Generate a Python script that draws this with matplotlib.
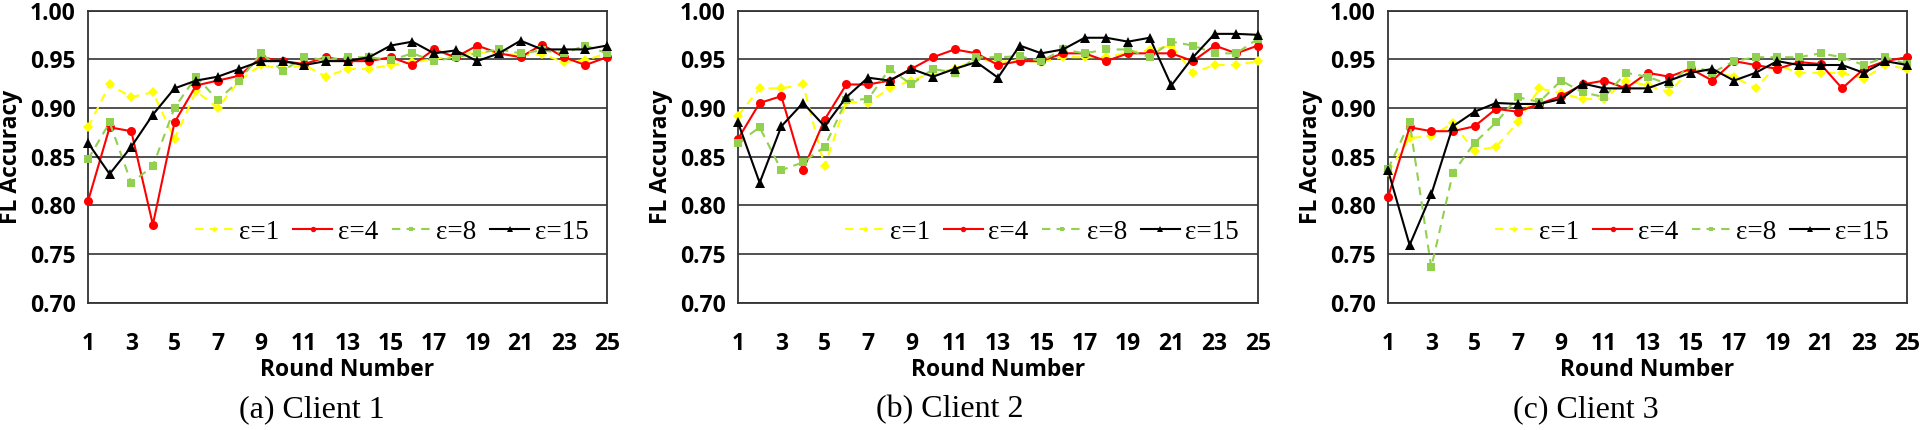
import matplotlib
matplotlib.use("Agg")
import matplotlib.pyplot as plt
from matplotlib.ticker import FixedLocator

rounds = list(range(1, 26))
xtick_labels = [str(r) for r in range(1, 26, 2)]
ytick_values = [0.70, 0.75, 0.80, 0.85, 0.90, 0.95, 1.00]
series_labels = ["ε=1", "ε=4", "ε=8", "ε=15"]
subcaptions = ["(a) Client 1", "(b) Client 2", "(c) Client 3"]

# Client 1
c1_eps1 = [0.880, 0.924, 0.911, 0.916, 0.868, 0.917, 0.900, 0.928, 0.944, 0.940, 0.944, 0.932, 0.940,
           0.940, 0.944, 0.947, 0.950, 0.954, 0.957, 0.956, 0.954, 0.955, 0.947, 0.949, 0.956]
c1_eps4 = [0.804, 0.880, 0.876, 0.780, 0.885, 0.923, 0.928, 0.933, 0.952, 0.948, 0.945, 0.952, 0.948,
           0.948, 0.952, 0.944, 0.960, 0.952, 0.964, 0.956, 0.952, 0.965, 0.952, 0.944, 0.952]
c1_eps8 = [0.847, 0.885, 0.823, 0.840, 0.900, 0.932, 0.908, 0.928, 0.956, 0.938, 0.952, 0.949, 0.952,
           0.952, 0.949, 0.956, 0.948, 0.952, 0.956, 0.960, 0.956, 0.959, 0.956, 0.964, 0.956]
c1_eps15 = [0.864, 0.832, 0.860, 0.893, 0.920, 0.928, 0.932, 0.940, 0.948, 0.948, 0.944, 0.948, 0.948,
            0.952, 0.964, 0.968, 0.956, 0.959, 0.948, 0.956, 0.969, 0.960, 0.960, 0.960, 0.964]

# Client 2
c2_eps1 = [0.892, 0.920, 0.920, 0.924, 0.840, 0.906, 0.905, 0.920, 0.928, 0.936, 0.940, 0.950, 0.947,
           0.949, 0.947, 0.952, 0.952, 0.952, 0.957, 0.959, 0.964, 0.936, 0.944, 0.944, 0.948]
c2_eps4 = [0.868, 0.905, 0.912, 0.836, 0.888, 0.924, 0.924, 0.928, 0.940, 0.952, 0.960, 0.956, 0.944,
           0.948, 0.948, 0.956, 0.956, 0.948, 0.956, 0.956, 0.956, 0.948, 0.964, 0.956, 0.964]
c2_eps8 = [0.864, 0.880, 0.836, 0.844, 0.860, 0.908, 0.909, 0.940, 0.924, 0.940, 0.936, 0.952, 0.952,
           0.953, 0.948, 0.960, 0.956, 0.960, 0.960, 0.952, 0.968, 0.964, 0.956, 0.956, 0.971]
c2_eps15 = [0.885, 0.823, 0.881, 0.905, 0.881, 0.911, 0.931, 0.928, 0.940, 0.932, 0.940, 0.947, 0.931,
            0.964, 0.956, 0.960, 0.972, 0.972, 0.968, 0.972, 0.923, 0.952, 0.976, 0.976, 0.975]

# Client 3
c3_eps1 = [0.834, 0.869, 0.871, 0.884, 0.856, 0.860, 0.885, 0.920, 0.915, 0.909, 0.909, 0.928, 0.923,
           0.916, 0.940, 0.937, 0.932, 0.920, 0.944, 0.936, 0.936, 0.936, 0.930, 0.944, 0.940]
c3_eps4 = [0.808, 0.880, 0.876, 0.876, 0.881, 0.899, 0.896, 0.904, 0.912, 0.924, 0.928, 0.920, 0.936,
           0.932, 0.940, 0.928, 0.948, 0.944, 0.940, 0.947, 0.945, 0.920, 0.940, 0.948, 0.952]
c3_eps8 = [0.837, 0.885, 0.736, 0.833, 0.864, 0.885, 0.911, 0.906, 0.928, 0.916, 0.911, 0.936, 0.932,
           0.924, 0.944, 0.936, 0.948, 0.952, 0.952, 0.952, 0.956, 0.952, 0.944, 0.952, 0.945]
c3_eps15 = [0.836, 0.759, 0.811, 0.881, 0.896, 0.905, 0.904, 0.904, 0.909, 0.925, 0.920, 0.920, 0.920,
            0.928, 0.936, 0.940, 0.928, 0.936, 0.948, 0.944, 0.944, 0.944, 0.936, 0.948, 0.944]

clients = [
    [c1_eps1, c1_eps4, c1_eps8, c1_eps15],
    [c2_eps1, c2_eps4, c2_eps8, c2_eps15],
    [c3_eps1, c3_eps4, c3_eps8, c3_eps15],
]

styles = [
    dict(color="#FFFF00", linestyle=(0, (4, 3)), marker="D", markersize=5),
    dict(color="#FF0000", linestyle="-", marker="o", markersize=6.5),
    dict(color="#92D050", linestyle=(0, (4, 3)), marker="s", markersize=6),
    dict(color="#000000", linestyle="-", marker="^", markersize=6.5),
]

W, H = 1920, 430
fig = plt.figure(figsize=(W / 100, H / 100), dpi=100)

sans_bold = dict(family=["Open Sans", "DejaVu Sans"], weight="bold", size=16.5)
serif = ["Liberation Serif", "DejaVu Serif"]

lefts = [88, 738, 1388]
widths = [519, 520, 519]
ax_bottom_px = 302.5
ax_top_px = 10.5
caption_x = [312, 950, 1586]

for i, series in enumerate(clients):
    l = lefts[i] / W
    b = (H - ax_bottom_px) / H
    w = widths[i] / W
    h = (ax_bottom_px - ax_top_px) / H
    ax = fig.add_axes([l, b, w, h])
    for k, vals in enumerate(series):
        ax.plot(rounds, vals, label=series_labels[k], linewidth=1.5, clip_on=False,
                zorder=3 + k, markeredgewidth=0, **styles[k])
    ax.set_xlim(1, 25)
    ax.set_ylim(0.70, 1.00)
    ax.xaxis.set_major_locator(FixedLocator(list(range(1, 26, 2))))
    ax.set_xticklabels(xtick_labels)
    ax.set_yticks(ytick_values)
    ax.set_yticklabels([f"{v:.2f}" for v in ytick_values])
    ax.tick_params(axis="both", length=0)
    ax.tick_params(axis="x", pad=21)
    ax.tick_params(axis="y", pad=9)
    for lab in ax.get_xticklabels() + ax.get_yticklabels():
        lab.set_fontfamily(["Open Sans", "DejaVu Sans"])
        lab.set_fontweight("bold")
        lab.set_fontsize(16.5)
    ax.yaxis.grid(True, color="#333333", linewidth=1.2)
    ax.xaxis.grid(False)
    ax.set_axisbelow(True)
    for s in ax.spines.values():
        s.set_color("#333333")
        s.set_linewidth(1.3)
    ax.set_xlabel("Round Number", fontdict=sans_bold, labelpad=2)
    ax.set_ylabel("FL Accuracy", fontdict=sans_bold, labelpad=5)
    leg = ax.legend(loc="center", bbox_to_anchor=(0.585, 0.241), ncol=4, frameon=False,
                    prop=dict(family=serif, size=19.5), handlelength=1.45, handletextpad=0.2,
                    columnspacing=0.5, markerscale=0.6, borderpad=0, borderaxespad=0)
    fig.text(caption_x[i] / W, 1 - 410 / H, subcaptions[i], ha="center", va="center",
             family=serif, fontsize=23)

fig.savefig("out.png", dpi=100)
